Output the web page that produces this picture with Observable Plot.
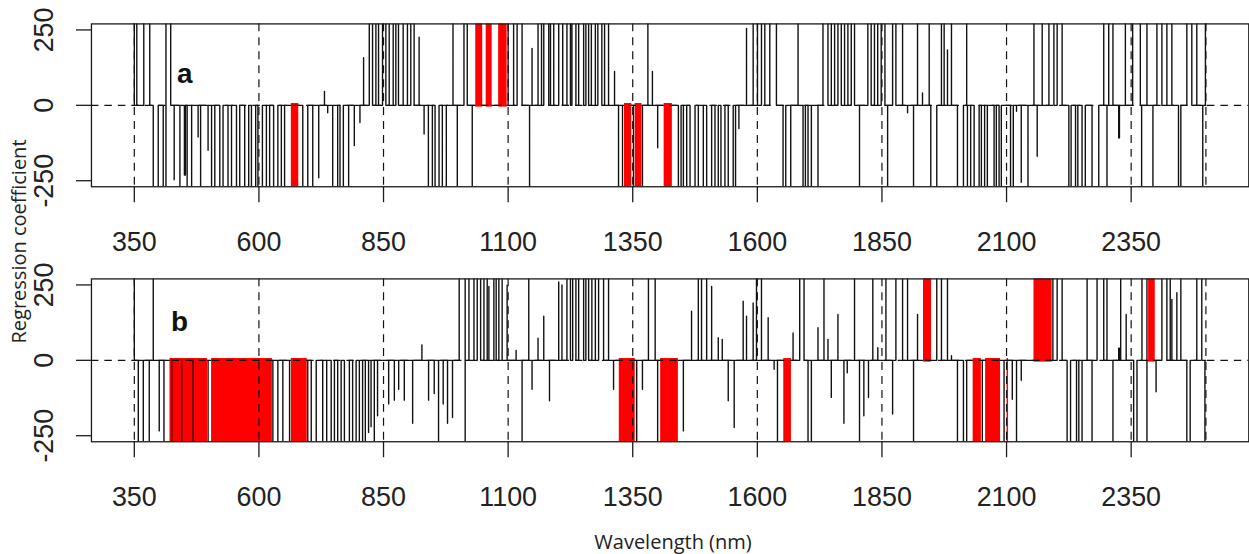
<!DOCTYPE html>
<html>
<head>
<meta charset="utf-8">
<script src="https://cdn.jsdelivr.net/npm/d3@7"></script>
<script src="https://cdn.jsdelivr.net/npm/@observablehq/plot@0.6"></script>
<style>
  html, body { margin: 0; padding: 0; background: #fff; }
  #page { position: relative; width: 1249px; height: 554px; overflow: hidden; }
  .panel { position: absolute; left: 0; width: 1249px; overflow: hidden; }
  #overlay { position: absolute; left: 0; top: 0; pointer-events: none; }
</style>
</head>
<body>
<div id="page">
  <div class="panel" id="pa" style="top:0px"></div>
  <div class="panel" id="pb" style="top:255px"></div>
</div>
<script>
// ---------------- data ----------------
const xTicks = [350, 600, 850, 1100, 1350, 1600, 1850, 2100, 2350];
const gridX = [350, 600, 850, 1100, 1350, 1600, 1850, 2100, 2350, 2500];
const yTicks = [-250, 0, 250];
const wlRange = [350, 2500];

// Panel a: coefficient runs [start nm, end nm, coefficient] (coefficient is 0 elsewhere)
const runsA = [
[350,355,1000],[369,381,1000],[388,398,-1000],[408,413.5,-1000],[413.5,423,1000],
[430,430,-247],[441.5,441.5,-1000],[450.5,452.5,-231],[456,465,-1000],[478,478,-105],
[483,483,-1000],[498,498,-149],[505,511.5,-1000],[521.5,528,-1000],[538,545,-1000],
[555,561.5,-1000],[571.5,579.5,-1000],[585,593.5,-1000],[598,607,-1000],[615,621.5,-1000],
[629.5,638,-1000],[645,651.5,-1000],[688,698,-1000],[708,708,-1000],[720,720,-240],
[731.5,731.5,46],[738,738,-25],[748,758,-1000],[762.7,769.4,-1000],[780,780,-1000],
[791.4,791.4,-133],[802.7,802.7,-57],[810,810,158],[821.4,828,1000],[834.7,840,1000],
[848,854.7,1000],[861.4,869.4,1000],[874.7,880,1000],[889.4,898,1000],[904.7,911.4,1000],
[921.4,921.4,226],[931.4,931.4,-95],[940,948,-1000],[953.4,961.4,-1000],[968,976,-1000],
[989.4,989.4,1000],[998,998,-1000],[1011.4,1018,1000],[1028,1028,-1000],
[1100,1111,1000],[1118,1128,1000],[1143,1143,-1000],[1148,1148,189],[1160,1167,1000],
[1171.5,1181.5,1000],[1185,1191.5,1000],[1201.5,1209.5,1000],[1218,1225,1000],[1228,1236,1000],
[1241.5,1251.5,1000],[1256,1261.5,1000],[1267,1275,1000],[1280,1288,1000],[1293.5,1301.5,1000],
[1313.5,1313.5,112],[1321.5,1329.5,-1000],[1351.5,1351.5,-1000],[1369.5,1369.5,-1000],
[1380.4,1380.4,1000],[1389.5,1389.5,112],[1400,1400,-141],
[1441.6,1447,-1000],[1451.6,1458.3,-1000],[1465,1475,-1000],[1481.6,1491.6,-1000],[1498.3,1508.3,-1000],
[1515,1521.6,-1000],[1527,1535,-1000],[1541.6,1551.6,-1000],[1556.3,1556.3,-1000],[1563,1563,-77],
[1578.3,1578.3,255],[1591.6,1600.3,1000],[1608.3,1615,1000],[1625,1638.3,1000],
[1651.6,1657,-1000],[1667,1667,-1000],[1681.7,1681.7,1000],[1691.7,1696.4,-1000],[1701.7,1708.4,-1000],
[1721.7,1721.7,-1000],[1731.7,1741.7,1000],[1748.4,1755,1000],[1761.7,1768.4,1000],[1775,1781.7,1000],
[1788.4,1795,1000],[1805,1805,-1000],[1821.7,1828.4,1000],[1835,1841.5,1000],[1848.5,1856,1000],
[1861.4,1861.4,-1000],[1871.4,1878,1000],[1891.4,1891.4,1000],[1901.4,1901.4,-25],[1913.4,1913.4,-1000],
[1921.4,1921.4,1000],[1931.4,1931.4,41],[1944.8,1944.8,1000],[1948,1960,-1000],[1969.4,1974.8,1000],
[1981.5,1981.5,184],[1989.5,1989.5,1000],[2001.5,2013.5,-1000],[2020,2020,1000],[2021.5,2028,-1000],
[2035,2045,-1000],[2049.5,2056,-1000],[2061.5,2061.5,-1000],[2075,2079.5,-1000],[2085,2089.5,-1000],
[2108,2113.5,-1000],[2120,2120,-20],[2129.5,2129.5,-255],[2143,2143,-1000],[2155,2155,1000],
[2161.5,2161.5,-169],[2171.5,2171.5,1000],[2185,2195,1000],[2201.5,2211.5,1000],[2225,2229.5,-1000],
[2238.4,2243,-1000],[2251.5,2258,-1000],[2271.5,2285,-1000],[2295,2295,1000],[2301.5,2301.5,-1000],
[2305,2305,1000],[2313.5,2313.5,1000],[2325,2326.5,-108],[2338.4,2338.4,1000],[2353,2368.4,1000],
[2371,2371,-1000],[2381.7,2381.7,1000],[2393.7,2393.7,-1000],[2401.7,2411.7,1000],[2421.7,2431.7,1000],
[2445,2449.7,-1000],[2461.7,2471.7,1000],[2481.7,2481.7,1000],[2493.7,2493.7,-1000],[2499,2499,1000]
];
// Panel a: selected (red) wavelength bands [start, end, coefficient]
const redA = [
[665,680,-1000],[1035,1049,1000],[1056,1068,1000],[1081,1098,1000],
[1333.5,1348,-1000],[1355,1368.5,-1000],[1413,1429.5,-1000]
];
const overA = [];

// Panel b
const runsB = [
[350,350,1000],[358,358,-1000],[368,368,-1000],[380,380,-1000],[388,388,1000],[400,400,-234],[409.5,409.5,-1000],
[498,498,-1000],[628,628,-1000],[638,638,-1000],[648,648,-1000],[661.5,661.5,-1000],[698,698,-1000],
[705,715,-1000],[728,736,-1000],[745,751.5,-1000],[758,765,-1000],[771.5,781.5,-1000],[788,795,-1000],
[801.5,808,-1000],[813.5,813.5,-1000],[820,820,-239],[825,825,-220],[831.5,831.5,-1000],[838,838,-184],
[860.3,860.3,-145],[871.7,871.7,-132],[880.4,880.4,-96],[891.7,891.7,-132],[908.4,908.4,-209],[927,927,51],
[940.4,940.4,-132],[951.7,951.7,-110],[960.4,960.4,-1000],[969.7,969.7,-145],[978.4,978.4,-209],[988.4,988.4,-190],
[1001.8,1013.8,1000],[1013.8,1013.8,-1000],[1021.4,1031.4,1000],[1038,1044.8,1000],[1051.5,1058,1000],
[1061.4,1061.4,245],[1071.4,1076,1000],[1081.4,1088,1000],[1098,1098,249],[1116,1116,33],[1128,1128,-1000],
[1141.4,1141.4,1000],[1148,1148,-96],[1160,1160,73],[1171.5,1171.5,146],[1183,1183,-134],[1201.5,1201.5,260],
[1208,1208,250],[1218,1225,1000],[1229.5,1236,1000],[1241.5,1251.5,1000],[1256,1261.5,1000],[1268,1275,1000],
[1281.5,1291.5,1000],[1301.5,1301.5,1000],[1311.5,1311.5,-96],[1358,1358,-1000],[1369.5,1369.5,-96],
[1381.5,1381.5,1000],[1395,1395,1000],[1400,1400,-1000],[1451.6,1451.6,-234],[1468,1468,163],
[1481.6,1488,1000],[1498.3,1498.3,1000],[1508.3,1508.3,245],[1521.6,1521.6,75],[1529.6,1529.6,69],
[1541.6,1541.6,-134],[1553.6,1553.6,-223],[1571.6,1571.6,196],[1578.3,1578.3,146],[1591.6,1591.6,190],
[1598.3,1598.3,1000],[1608.3,1608.3,1000],[1621.7,1621.7,141],[1633.7,1633.7,-30],[1640.4,1640.4,-1000],
[1671.7,1671.7,91],[1685,1693.7,1000],[1701.7,1708.4,-1000],[1721.7,1721.7,108],[1733.7,1733.7,1000],
[1741.7,1741.7,69],[1748.4,1748.4,-123],[1761.7,1761.7,152],[1773.7,1773.7,-209],[1780.4,1780.4,-41],
[1795,1795,1000],[1805,1805,-1000],[1813.7,1813.7,-184],[1823,1823,-123],[1831.7,1831.7,1000],
[1841.7,1841.7,42],[1858,1858,1000],[1871.4,1871.4,-178],[1878,1891.4,1000],[1901.4,1901.4,1000],
[1913.4,1913.4,-1000],[1921.4,1921.4,152],[1960,1969.4,1000],[1981.5,1981.5,1000],[1989.5,1989.5,15],
[2001.5,2001.5,-1000],[2013.5,2020,-1000],[2051.4,2051.4,-1000],[2095,2095,-1000],[2111.5,2111.5,-129],
[2120,2120,-1000],[2129.5,2129.5,-66],[2193,2193,1000],[2201.5,2211.5,1000],[2221.5,2228.4,-1000],
[2240.4,2245,-1000],[2251.5,2251.5,-1000],[2261.6,2261.6,1000],[2271.5,2271.5,-1000],[2281.6,2295,1000],
[2301.5,2301.5,1000],[2313.5,2313.5,-1000],[2325,2326.5,40],[2329,2329,1000],[2340,2340,152],
[2355,2361.7,-1000],[2371.7,2381.7,1000],[2381.7,2381.7,-1000],[2400,2400,-104],[2411.7,2421.7,1000],
[2428.4,2428.4,1000],[2431.7,2431.7,202],[2441.7,2441.7,224],[2449.7,2449.7,1000],[2461.7,2468.4,-1000],
[2481.7,2491.7,1000],[2498,2498,-1000]
];
const redB = [
[421.5,497,-1000],[505,627,-1000],[665,697,-1000],[1323,1355,-1000],[1406,1441.6,-1000],
[1653,1668.4,-1000],[1933.4,1949.4,1000],[2033,2049.5,-1000],[2058,2088,-1000],[2101,2104,-1000],
[2155,2191.5,1000],[2385,2398.4,1000]
];
const overB = [425, 445, 468];

// ---------------- chart ----------------
function toPoints(runs) {
  const sorted = runs.slice().sort((p, q) => p[0] - q[0]);
  const pts = [{w: wlRange[0], v: 0}];
  for (const [a, b, v] of sorted) {
    pts.push({w: a, v: 0}, {w: a, v}, {w: b, v}, {w: b, v: 0});
  }
  pts.push({w: wlRange[1], v: 0});
  return pts;
}

const INK = "#111";

function panel(runs, reds, overs, label, labelPos) {
  return Plot.plot({
    width: 1254, height: 280,
    marginLeft: 91.3, marginRight: 0.7, marginTop: 23.5, marginBottom: 93,
    x: {domain: [264, 2586], label: null},
    y: {domain: [-270, 270], label: null},
    style: {background: "transparent", fontFamily: "'Liberation Sans', Arial, sans-serif", color: "#222", overflow: "visible"},
    marks: [
      Plot.line(toPoints(runs), {x: "w", y: "v", stroke: INK, strokeWidth: 1.4, clip: true}),
      Plot.rect(reds, {x1: d => d[0], x2: d => d[1], y1: d => (d[2] > 0 ? -6 : 6), y2: d => d[2], fill: "#ff0000", clip: true}),
      Plot.ruleX(overs, {x: d => d, y1: 0, y2: -1000, stroke: INK, strokeWidth: 1.4, clip: true}),
      Plot.ruleX(gridX, {x: d => d, stroke: INK, strokeWidth: 1.2, strokeDasharray: "8,6"}),
      Plot.ruleY([0], {y: d => d, stroke: INK, strokeWidth: 1.2, strokeDasharray: "7.5,6"}),
      Plot.frame({stroke: "#1a1a1a", strokeWidth: 1.3}),
      Plot.axisX(xTicks, {tickSize: 16, tickPadding: 29, fontSize: 27, fill: "#222", stroke: "#1a1a1a", strokeWidth: 1.3, tickFormat: d => String(d), label: null}),
      Plot.axisY(yTicks, {tickSize: 15, fontSize: 1, tickFormat: () => "", stroke: "#1a1a1a", strokeWidth: 1.3, label: null}),
      Plot.text(yTicks, {y: d => d, text: d => String(d), frameAnchor: "left", dx: -38.3, rotate: -90,
        textAnchor: "middle", lineAnchor: "bottom", fontSize: 27, fill: "#222"}),
      Plot.text([label], {x: labelPos[0], y: labelPos[1], text: d => d, textAnchor: "start", lineAnchor: "bottom",
        fontSize: 28, fontWeight: "bold", fill: "#111"})
    ]
  });
}

document.getElementById("pa").append(panel(runsA, redA, overA, "a", [435.4, 73.5]));
document.getElementById("pb").append(panel(runsB, redB, overB, "b", [423.4, 96.6]));

// axis titles shared by both panels
const svg = d3.select("#page").append("svg").attr("id", "overlay").attr("width", 1249).attr("height", 554);
svg.append("text").text("Regression coefficient")
  .attr("transform", "translate(26,241.5) rotate(-90)")
  .attr("text-anchor", "middle").attr("font-family", "'Open Sans', sans-serif").attr("font-size", 20).attr("fill", "#222");
svg.append("text").text("Wavelength (nm)")
  .attr("x", 673).attr("y", 549)
  .attr("text-anchor", "middle").attr("font-family", "'Open Sans', sans-serif").attr("font-size", 20).attr("fill", "#222");
</script>
</body>
</html>
